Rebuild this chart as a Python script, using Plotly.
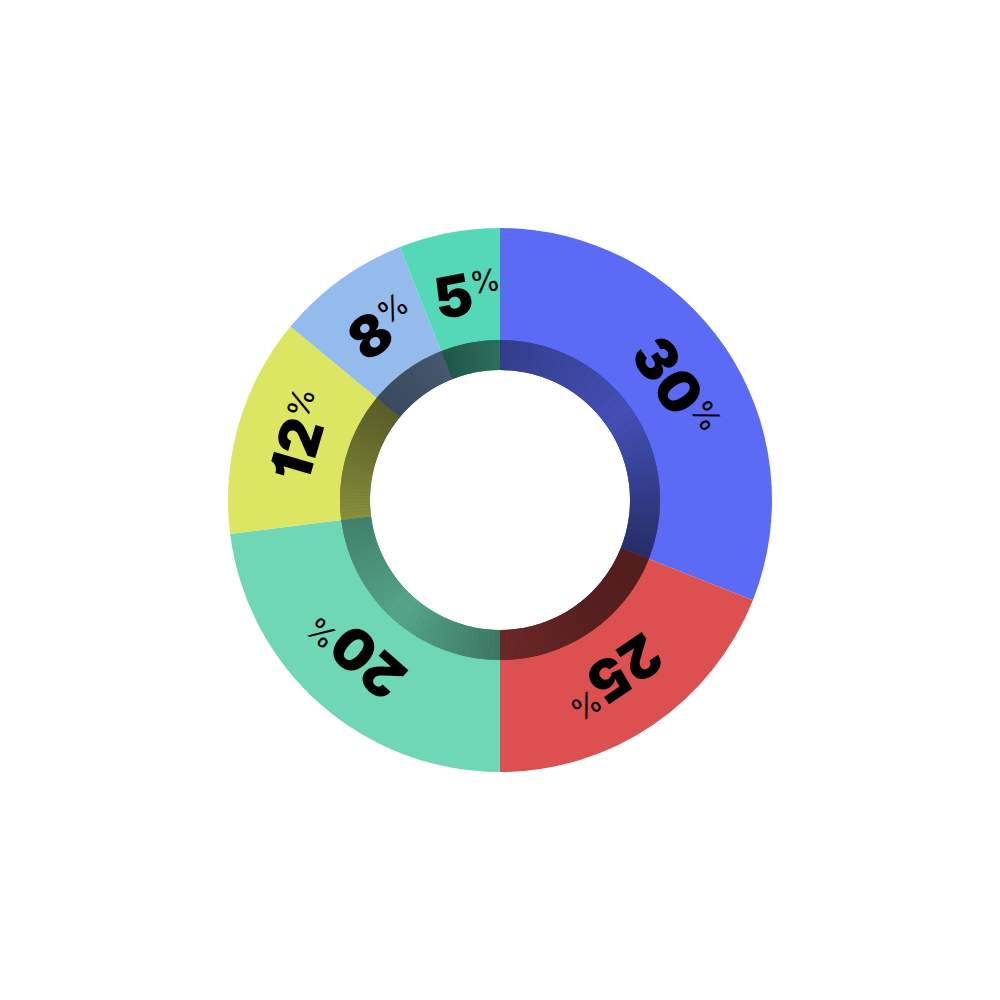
import math
import plotly.graph_objects as go

# ---- data ----
categories = ["A", "B", "C", "D", "E", "F"]
values = [31, 19, 23, 13, 8, 6]            # arc sizes as drawn
label_numbers = ["30", "25", "20", "12", "8", "5"]   # displayed label text

# ---- style ----
colors = ["#5B6BF5", "#DC5050", "#6FD7B5", "#DDE663", "#93BBEB", "#55D8B8"]
# darkening factor of the inner ring (start, middle, end of each slice)
ring_shade = [(0.57, 0.74, 0.42), (0.37, 0.40, 0.50), (0.55, 0.77, 0.59),
              (0.62, 0.50, 0.40), (0.40, 0.43, 0.48), (0.40, 0.46, 0.53)]

W = H = 1000
R_OUT = 272
R_RING = 160
R_HOLE = 130
R_LAB = 209
PCT_SHIFT = 7   # px: label box centre offset so the number sits near the mid-angle


def hex_rgb(h):
    h = h.lstrip("#")
    return tuple(int(h[i:i + 2], 16) for i in (0, 2, 4))


def shade(c, f):
    r, g, b = hex_rgb(c)
    return f"rgb({r * f:.0f},{g * f:.0f},{b * f:.0f})"


def dom(r):
    return [0.5 - r / W, 0.5 + r / W], [0.5 - r / H, 0.5 + r / H]


fig = go.Figure()

dx, dy = dom(R_OUT)
fig.add_trace(go.Pie(
    labels=categories, values=values, sort=False, direction="clockwise",
    rotation=0, hole=(R_RING - 8) / R_OUT,
    marker=dict(colors=colors, line=dict(width=0)),
    textinfo="none", hoverinfo="skip", showlegend=False,
    domain=dict(x=dx, y=dy),
))

# underlay of the shaded ring (hides seams between gradient steps)
dx, dy = dom(R_RING)
fig.add_trace(go.Pie(
    labels=categories, values=values, sort=False, direction="clockwise",
    rotation=0, hole=R_HOLE / R_RING,
    marker=dict(colors=[shade(c, s[1] * 0.5 + (s[0] + s[2]) * 0.25) for c, s in zip(colors, ring_shade)],
                line=dict(width=0)),
    textinfo="none", hoverinfo="skip", showlegend=False,
    domain=dict(x=dx, y=dy),
))

# shaded inner ring, each slice split into thin steps for a gradient
N = 36
ring_vals, ring_cols, ring_labels = [], [], []
for cat, v, c, (a, b, e) in zip(categories, values, colors, ring_shade):
    for k in range(N):
        t = (k + 0.5) / N
        f = a + (b - a) * t * 2 if t < 0.5 else b + (e - b) * (t - 0.5) * 2
        ring_vals.append(v / N)
        ring_cols.append(shade(c, f))
        ring_labels.append(f"{cat}{k}")

fig.add_trace(go.Pie(
    labels=ring_labels, values=ring_vals, sort=False, direction="clockwise",
    rotation=0, hole=R_HOLE / R_RING,
    marker=dict(colors=ring_cols, line=dict(width=0)),
    textinfo="none", hoverinfo="skip", showlegend=False,
    domain=dict(x=dx, y=dy),
))

annotations = []
total = sum(values)
cum = 0
for v, num in zip(values, label_numbers):
    mid = (cum + v / 2) / total * 360
    cum += v
    th = math.radians(mid)
    ang = mid if mid <= 180 else mid - 360
    # number centred near mid angle; shift whole label along its baseline
    px = R_LAB * math.sin(th) + PCT_SHIFT * math.cos(th)
    py = R_LAB * math.cos(th) - PCT_SHIFT * math.sin(th)
    annotations.append(dict(
        x=0.5 + px / W, y=0.5 + py / H,
        xref="paper", yref="paper", xanchor="center", yanchor="middle",
        showarrow=False, textangle=ang,
        text=(f"<span style='font-size:57px;font-weight:900;font-feature-settings:\"cv01\"'>{num}</span>"
              f"<sup>%</sup>"),
        font=dict(family="Inter, Roboto, Liberation Sans, sans-serif", size=44, color="#000000"),
    ))

fig.update_layout(
    width=W, height=H, margin=dict(l=0, r=0, t=0, b=0),
    paper_bgcolor="#FFFFFF", plot_bgcolor="#FFFFFF",
    showlegend=False, annotations=annotations,
)

fig.write_html("out.html")
